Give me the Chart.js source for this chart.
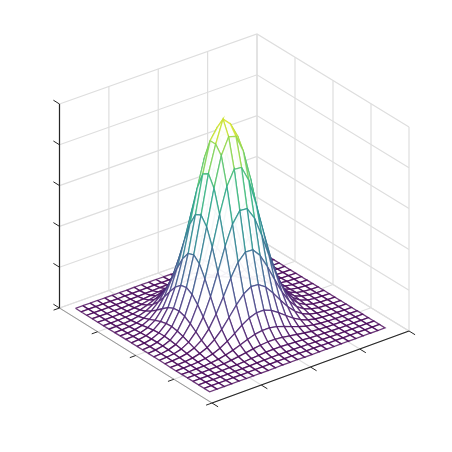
<!DOCTYPE html>
<html>
<head>
<meta charset="utf-8">
<style>
  html, body { margin: 0; padding: 0; background: #fff; }
  canvas { display: block; }
</style>
<script src="https://cdn.jsdelivr.net/npm/chart.js@4"></script>
</head>
<body>
<canvas id="surfaceChart" width="452" height="452"></canvas>
<script>
// surface samples, 25 x 25
const xValues = [-12,-11,-10,-9,-8,-7,-6,-5,-4,-3,-2,-1,0,1,2,3,4,5,6,7,8,9,10,11,12];
const yValues = [-12,-11,-10,-9,-8,-7,-6,-5,-4,-3,-2,-1,0,1,2,3,4,5,6,7,8,9,10,11,12];
const zValues = [
  [0,0,0,0,0,0,0,0,.001,.001,.001,.001,.001,.001,.001,.001,0,0,0,0,0,0,0,0,0],
  [0,0,0,0,0,0,.001,.001,.002,.002,.003,.003,.003,.003,.002,.002,.001,.001,0,0,0,0,0,0,0],
  [0,0,0,0,.001,.001,.002,.003,.005,.006,.008,.009,.009,.008,.006,.005,.003,.002,.001,.001,0,0,0,0,0],
  [0,0,0,.001,.001,.003,.005,.008,.012,.016,.020,.022,.022,.020,.016,.012,.008,.005,.003,.001,.001,0,0,0,0],
  [0,0,.001,.001,.003,.006,.011,.019,.028,.037,.045,.050,.049,.045,.036,.027,.018,.011,.006,.003,.001,.001,0,0,0],
  [0,0,.001,.003,.006,.013,.024,.039,.057,.077,.093,.103,.102,.092,.075,.055,.037,.022,.012,.006,.003,.001,0,0,0],
  [0,.001,.002,.005,.012,.024,.044,.072,.107,.144,.175,.192,.191,.172,.140,.103,.069,.042,.023,.011,.005,.002,.001,0,0],
  [0,.001,.004,.009,.020,.041,.074,.122,.181,.243,.295,.325,.323,.291,.237,.175,.116,.070,.038,.019,.008,.003,.001,0,0],
  [.001,.002,.006,.014,.031,.063,.114,.187,.277,.372,.451,.496,.494,.445,.362,.267,.178,.107,.059,.029,.013,.005,.002,.001,0],
  [.001,.003,.008,.020,.043,.087,.157,.258,.383,.514,.625,.687,.684,.615,.501,.370,.246,.149,.081,.040,.018,.007,.003,.001,0],
  [.001,.004,.010,.025,.054,.109,.197,.323,.480,.644,.782,.860,.856,.771,.628,.463,.309,.186,.102,.050,.022,.009,.003,.001,0],
  [.001,.004,.011,.028,.061,.123,.223,.366,.544,.730,.880,.934,.890,.850,.711,.525,.350,.211,.115,.057,.025,.010,.004,.001,0],
  [.001,.004,.012,.029,.063,.126,.229,.376,.558,.748,.880,.990,.954,.880,.730,.538,.359,.216,.118,.058,.026,.011,.004,.001,0],
  [.001,.004,.011,.026,.058,.117,.212,.349,.517,.694,.840,.920,.910,.825,.677,.499,.333,.201,.110,.054,.024,.010,.004,.001,0],
  [.001,.003,.009,.022,.049,.098,.178,.292,.434,.582,.707,.778,.774,.697,.568,.419,.279,.168,.092,.045,.020,.008,.003,.001,0],
  [.001,.003,.007,.017,.037,.075,.135,.222,.330,.443,.538,.592,.589,.530,.432,.319,.212,.128,.070,.035,.015,.006,.002,.001,0],
  [.001,.002,.005,.012,.026,.051,.093,.153,.226,.304,.369,.406,.404,.364,.296,.219,.146,.088,.048,.024,.011,.004,.002,.001,0],
  [0,.001,.003,.007,.016,.032,.058,.095,.141,.189,.230,.253,.251,.226,.184,.136,.091,.055,.030,.015,.007,.003,.001,0,0],
  [0,.001,.002,.004,.009,.018,.033,.054,.079,.107,.129,.142,.142,.128,.104,.077,.051,.031,.017,.008,.004,.002,.001,0,0],
  [0,0,.001,.002,.005,.009,.017,.027,.040,.054,.066,.072,.072,.065,.053,.039,.026,.016,.009,.004,.002,.001,0,0,0],
  [0,0,0,.001,.002,.004,.008,.013,.019,.025,.030,.033,.033,.030,.024,.018,.012,.007,.004,.002,.001,0,0,0,0],
  [0,0,0,0,.001,.002,.003,.005,.008,.010,.013,.014,.014,.012,.010,.008,.005,.003,.002,.001,0,0,0,0,0],
  [0,0,0,0,0,.001,.001,.002,.003,.004,.005,.005,.005,.005,.004,.003,.002,.001,.001,0,0,0,0,0,0],
  [0,0,0,0,0,0,0,.001,.001,.001,.002,.002,.002,.002,.001,.001,.001,0,0,0,0,0,0,0,0],
  [0,0,0,0,0,0,0,0,0,0,.001,.001,.001,0,0,0,0,0,0,0,0,0,0,0,0]
];

// axis limits and ticks (the picture has tick marks but no labels)
const xLimits = [-13.09, 14.18];
const yLimits = [-13.35, 13.62];
const zLimits = [0, 1];
const xTicks = [0, 0.25, 0.5, 0.75, 1];
const yTicks = [0, 0.25, 0.5, 0.75, 1];
const zTicks = [0, 0.2, 0.4, 0.6, 0.8, 1];

const viridis = ['#440154','#482878','#3e4989','#31688e','#26828e','#1f9e89','#35b779','#6ece58','#b5de2b','#fde725'];

// floor corners of the 3d box on the page, u runs left->front, v runs left->back
const corners = { left: [59.5, 308], front: [212, 403], right: [409, 331], back: [257, 238] };
const boxHeight = 204;

function project(u, v, w) {
    const a = (1 - u) * (1 - v), b = u * (1 - v), c = u * v, d = (1 - u) * v;
    return {
        x: a * corners.left[0] + b * corners.front[0] + c * corners.right[0] + d * corners.back[0],
        y: a * corners.left[1] + b * corners.front[1] + c * corners.right[1] + d * corners.back[1] - w * boxHeight
    };
}

const toU = (x) => (x - xLimits[0]) / (xLimits[1] - xLimits[0]);
const toV = (y) => (y - yLimits[0]) / (yLimits[1] - yLimits[0]);
const toW = (z) => (z - zLimits[0]) / (zLimits[1] - zLimits[0]);

function hexToRgb(hex) {
    return [1, 3, 5].map(i => parseInt(hex.slice(i, i + 2), 16));
}

function colorFor(z, alpha) {
    const t = Math.min(1, Math.max(0, z)) * (viridis.length - 1);
    const i = Math.min(viridis.length - 2, Math.floor(t));
    const a = hexToRgb(viridis[i]), b = hexToRgb(viridis[i + 1]);
    const mix = a.map((val, k) => Math.round(val + (b[k] - val) * (t - i)));
    return `rgba(${mix[0]},${mix[1]},${mix[2]},${alpha})`;
}

const datasets = [];

function addLine(points, color, width) {
    datasets.push({ data: points, showLine: true, pointRadius: 0, borderColor: color, borderWidth: width });
}

// ---------- Box grid ----------
const gridColor = '#dedede';
xTicks.forEach(u => {
    addLine([project(u, 0, 0), project(u, 1, 0)], gridColor, 1.2);
    addLine([project(u, 1, 0), project(u, 1, 1)], gridColor, 1.2);
});
yTicks.forEach(v => {
    addLine([project(0, v, 0), project(1, v, 0)], gridColor, 1.2);
    addLine([project(0, v, 0), project(0, v, 1)], gridColor, 1.2);
});
zTicks.forEach(w => {
    addLine([project(0, 0, w), project(0, 1, w), project(1, 1, w)], gridColor, 1.2);
});

// ---------- Axis lines and ticks ----------
const axisColor = '#262626';
addLine([project(0, 0, 0), project(1, 0, 0)], '#999999', 1);
addLine([project(1, 0, 0), project(1, 1, 0)], axisColor, 1.2);
addLine([project(0, 0, 0), project(0, 0, 1)], axisColor, 1.2);
xTicks.forEach(u => addLine([project(u, 0, 0), project(u, -0.03, 0)], axisColor, 1));
yTicks.forEach(v => addLine([project(1, v, 0), project(1.04, v, 0)], axisColor, 1));
zTicks.forEach(w => addLine([project(0, 0, w), project(-0.04, 0, w)], axisColor, 1));

// ---------- Wire surface, far cells first so nearer ones cover them ----------
function surfacePoint(i, j) {
    return project(toU(xValues[i]), toV(yValues[j]), toW(zValues[i][j]));
}

for (let i = 0; i < xValues.length - 1; i++) {
    for (let j = yValues.length - 2; j >= 0; j--) {
        const mean = (zValues[i][j] + zValues[i + 1][j] + zValues[i + 1][j + 1] + zValues[i][j + 1]) / 4;
        const start = surfacePoint(i, j);
        datasets.push({
            data: [start, surfacePoint(i + 1, j), surfacePoint(i + 1, j + 1), surfacePoint(i, j + 1), start],
            showLine: true,
            pointRadius: 0,
            borderWidth: 1.3,
            borderColor: colorFor(mean, 0.78),
            // flat cells let the floor grid show, raised ones hide what is behind
            backgroundColor: mean < 0.02 ? 'rgba(255,255,255,0.45)' : 'rgba(255,255,255,0.94)',
            fill: 'shape'
        });
    }
}

// later datasets paint first in Chart.js, so flip to keep the order above
datasets.reverse();

new Chart(document.getElementById('surfaceChart').getContext('2d'), {
    type: 'scatter',
    data: { datasets: datasets },
    options: {
        responsive: false,
        animation: false,
        layout: { padding: 0 },
        plugins: { legend: { display: false }, tooltip: { enabled: false } },
        scales: {
            x: { type: 'linear', min: 0, max: 452, display: false },
            y: { type: 'linear', min: 0, max: 452, reverse: true, display: false }
        }
    }
});
</script>
</body>
</html>
